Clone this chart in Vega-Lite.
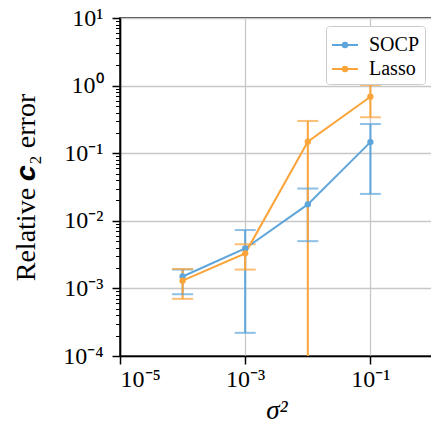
{
  "$schema": "https://vega.github.io/schema/vega-lite/v6.json",
  "autosize": "none",
  "padding": {"left": 120, "top": 18, "right": 0, "bottom": 75},
  "width": 313,
  "height": 338,
  "background": "white",
  "config": {
    "view": {"stroke": "black", "strokeWidth": 1.6},
    "font": "Liberation Serif"
  },
  "data": {
    "values": [
      {"sigma2": 0.0001, "method": "SOCP", "value": 0.0015, "lo": 0.00082, "hi": 0.0019},
      {"sigma2": 0.001, "method": "SOCP", "value": 0.0039, "lo": 0.00022, "hi": 0.0073},
      {"sigma2": 0.01, "method": "SOCP", "value": 0.0175, "lo": 0.005, "hi": 0.030},
      {"sigma2": 0.1, "method": "SOCP", "value": 0.146, "lo": 0.025, "hi": 0.27},
      {"sigma2": 0.0001, "method": "Lasso", "value": 0.0013, "lo": 0.0007, "hi": 0.00194},
      {"sigma2": 0.001, "method": "Lasso", "value": 0.0033, "lo": 0.0019, "hi": 0.0045},
      {"sigma2": 0.01, "method": "Lasso", "value": 0.148, "lo": 0.000001, "hi": 0.30},
      {"sigma2": 0.1, "method": "Lasso", "value": 0.685, "lo": 0.34, "hi": 1.02}
    ]
  },
  "encoding": {
    "x": {
      "field": "sigma2", "type": "quantitative",
      "scale": {"type": "log", "domain": [0.00001, 1], "nice": false},
      "axis": {
        "values": [0.00001, 0.001, 0.1],
        "title": "σ²",
        "titleFont": "Liberation Serif", "titleFontSize": 27, "titleFontWeight": "normal", "titleFontStyle": "italic",
        "titlePadding": 6,
        "labelFont": "Liberation Serif", "labelFontSize": 24, "labelColor": "black", "labelPadding": 3,
        "labelExpr": "'10' + (round(log(datum.value)/LN10) < 0 ? '⁻' : '') + ['⁰','¹','²','³','⁴','⁵','⁶','⁷','⁸','⁹'][abs(round(log(datum.value)/LN10))]",
        "domainColor": "black", "domainWidth": 1.6,
        "tickColor": "black", "tickSize": 8, "tickWidth": 1.5,
        "gridColor": "#c8c8c8", "gridWidth": 1.3
      }
    },
    "color": {
      "field": "method", "type": "nominal",
      "scale": {"domain": ["SOCP", "Lasso"], "range": ["#5DA5DA", "#FAA43A"]},
      "legend": {
        "title": null, "orient": "top-right", "offset": 8,
        "symbolType": "M-1,0H1M-0.17,0A0.17,0.17 0 1,0 0.17,0A0.17,0.17 0 1,0 -0.17,0Z",
        "symbolStrokeWidth": 2, "symbolSize": 676,
        "labelFont": "Liberation Serif", "labelFontSize": 20, "labelColor": "black", "labelOffset": 10,
        "strokeColor": "#cccccc", "fillColor": "white", "cornerRadius": 3, "padding": 5,
        "rowPadding": 0,
        "encode": {"symbols": {"update": {"fill": {"scale": "color", "field": "value"}, "fillOpacity": {"value": 1}}}}
      }
    }
  },
  "layer": [
    {
      "mark": {"type": "rule", "strokeWidth": 2, "clip": true},
      "encoding": {
        "y": {
          "field": "lo", "type": "quantitative",
          "scale": {"type": "log", "domain": [0.0001, 10], "nice": false},
          "axis": {
            "values": [0.0001,0.0002,0.0003,0.0004,0.0005,0.0006,0.0007,0.0008,0.0009,0.001,0.002,0.003,0.004,0.005,0.006,0.007,0.008,0.009,0.01,0.02,0.03,0.04,0.05,0.06,0.07,0.08,0.09,0.1,0.2,0.3,0.4,0.5,0.6,0.7,0.8,0.9,1,2,3,4,5,6,7,8,9,10],
            "title": "Relative 𝒄₂ error",
            "titleFont": "Liberation Serif", "titleFontSize": 28, "titleFontWeight": "normal",
            "titlePadding": 22,
            "labelFont": "Liberation Serif", "labelFontSize": 24, "labelColor": "black", "labelPadding": 9,
            "labelExpr": "abs(log(datum.value)/LN10 - round(log(datum.value)/LN10)) < 0.000001 ? '10' + (round(log(datum.value)/LN10) < 0 ? '⁻' : '') + ['⁰','¹','²','³','⁴','⁵','⁶','⁷','⁸','⁹'][abs(round(log(datum.value)/LN10))] : ''",
            "domainColor": "black", "domainWidth": 1.6,
            "tickColor": "black",
            "tickSize": {"condition": {"test": "abs(log(datum.value)/LN10 - round(log(datum.value)/LN10)) < 0.000001", "value": 8}, "value": 4.5},
            "tickWidth": {"condition": {"test": "abs(log(datum.value)/LN10 - round(log(datum.value)/LN10)) < 0.000001", "value": 1.5}, "value": 1},
            "gridColor": "#c8c8c8", "gridWidth": 1.3,
            "gridOpacity": {"condition": {"test": "abs(log(datum.value)/LN10 - round(log(datum.value)/LN10)) < 0.000001", "value": 1}, "value": 0},
            "labelOverlap": false, "labelBound": false
          }
        },
        "y2": {"field": "hi"}
      }
    },
    {
      "mark": {"type": "tick", "orient": "horizontal", "size": 21, "thickness": 2, "clip": true},
      "encoding": {"y": {"field": "lo", "type": "quantitative"}}
    },
    {
      "mark": {"type": "tick", "orient": "horizontal", "size": 21, "thickness": 2, "clip": true},
      "encoding": {"y": {"field": "hi", "type": "quantitative"}}
    },
    {
      "mark": {"type": "line", "strokeWidth": 2, "point": {"size": 40, "filled": true}},
      "encoding": {"y": {"field": "value", "type": "quantitative"}}
    }
  ]
}
